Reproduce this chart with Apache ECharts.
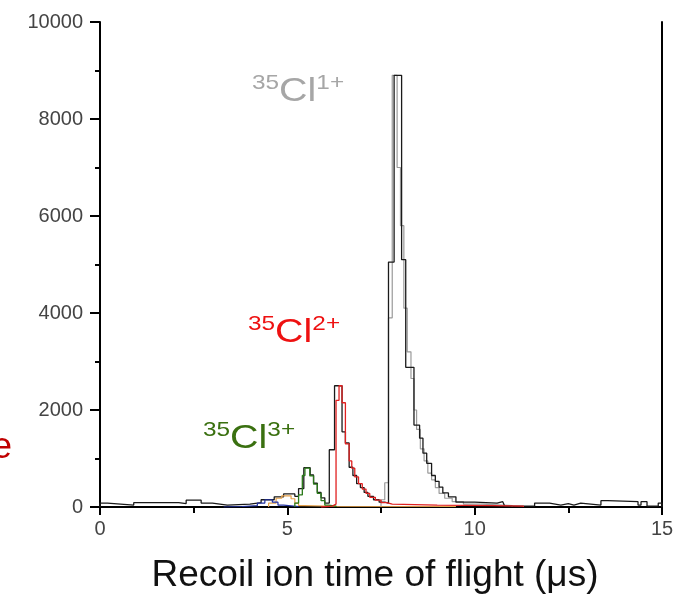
<!DOCTYPE html>
<html>
<head>
<meta charset="utf-8">
<script src="https://cdn.jsdelivr.net/npm/echarts@6/dist/echarts.min.js"></script>
<style>
html,body{margin:0;padding:0;background:#fff;}
#chart{width:677px;height:595px;}
</style>
</head>
<body>
<div id="chart"></div>
<script>
// Axis ticks
const xTicks = [0, 5, 10, 15];
const yTicks = [0, 2000, 4000, 6000, 8000, 10000];

// Total spectrum (black)
const blackEdges = [0,0.2,0.9,2.1,2.3,2.7,3.0,3.4,4.0,4.3,4.65,4.9,5.2,5.3,5.44,5.61,5.7,5.8,5.9,6.0,6.12,6.26,6.46,6.55,6.65,6.75,6.85,6.95,7.05,7.15,7.3,7.45,7.6,7.7,7.85,8.05,8.16,8.38,8.53,8.62,8.72,8.85,8.95,9.05,9.15,9.3,9.5,10.0,10.6,10.75,10.8,11.6,12.0,12.3,12.5,12.65,12.83,13.37,13.55,14.36,14.44,14.6,14.9,15];
const blackCounts = [80,40,90,70,140,80,40,60,90,150,210,270,220,380,810,660,490,300,190,80,1180,2500,1550,1320,820,650,480,400,300,220,150,100,80,5050,8900,5100,2880,1690,1420,1110,900,650,530,410,290,210,100,80,110,80,20,80,40,70,40,80,40,130,110,40,110,20,80];

// 35Cl1+ (grey)
const greyEdges = [7.5,7.6,7.7,7.8,7.93,8.02,8.11,8.2,8.3,8.38,8.45,8.55,8.65,8.75,8.85,8.95,9.05,9.2,9.4,9.7,10.2,11.0];
const greyCounts = [150,500,3900,8900,7000,5800,4100,3200,2650,2000,1600,1200,950,700,560,400,280,180,110,60,30];

// 35Cl2+ (red)
const redEdges = [5.9,6.2,6.3,6.38,6.46,6.55,6.65,6.72,6.8,6.9,7.0,7.1,7.2,7.35,7.5,7.65,7.8,9.0,10.5,11.3];
const redCounts = [20,60,2200,2500,2150,1300,950,800,620,480,370,280,200,140,90,60,40,30,20];

// 35Cl3+ (green)
const greenEdges = [5.2,5.3,5.4,5.47,5.6,5.7,5.8,5.9,6.0,6.1,6.3];
const greenCounts = [80,250,650,800,640,470,280,130,40,20];

// orange component
const orangeEdges = [4.5,4.7,4.85,5.1,5.2,5.3,5.45,6.3,9.5];
const orangeCounts = [80,180,230,170,80,30,15,10];

// blue component
const blueEdges = [3.3,3.8,4.2,4.4,4.6,4.75,4.9,5.3];
const blueCounts = [10,30,80,150,100,40,10];

function histData(edges, counts) {
  const d = [[edges[0], 0]];
  for (let i = 0; i < counts.length; i++) d.push([edges[i], counts[i]]);
  d.push([edges[edges.length - 1], counts[counts.length - 1]]);
  d.push([edges[edges.length - 1], 0]);
  return d;
}

function histSeries(name, edges, counts, color, width, z) {
  return {
    name: name, type: 'line', step: 'end', symbol: 'none', silent: true,
    data: histData(edges, counts), z: z,
    lineStyle: { color: color, width: width }
  };
}

const FONT = '"Liberation Sans", Arial, sans-serif';

function ionLabel(x, y, charge, color) {
  return {
    type: 'text', x: x, y: y, scaleX: 1.16, z: 20,
    style: {
      text: '{s|35}{m|Cl}{s|' + charge + '}', fill: color, font: '34px ' + FONT,
      align: 'left', verticalAlign: 'top',
      rich: {
        s: { fontSize: 21, fontFamily: FONT, fill: color, verticalAlign: 'top', lineHeight: 36 },
        m: { fontSize: 34, fontFamily: FONT, fill: color, verticalAlign: 'bottom', lineHeight: 36 }
      }
    }
  };
}

const chart = echarts.init(document.getElementById('chart'), null, { renderer: 'canvas' });

chart.setOption({
  animation: false,
  backgroundColor: '#ffffff',
  grid: { left: 100, right: 15, top: 22, bottom: 88, containLabel: false, outerBoundsMode: 'none' },
  xAxis: {
    type: 'value', min: xTicks[0], max: xTicks[xTicks.length - 1], interval: 5,
    name: 'Recoil ion time of flight (\u03bcs)', nameLocation: 'middle', nameGap: 50,
    nameTextStyle: { fontSize: 37, color: '#111', fontFamily: FONT, verticalAlign: 'top', padding: [0, 12, 0, 0] },
    axisLine: { show: true, onZero: false, lineStyle: { color: '#000', width: 2 } },
    axisTick: { show: true, inside: false, length: 8, lineStyle: { color: '#000', width: 2 } },
    minorTick: { show: true, splitNumber: 2, length: 6, lineStyle: { color: '#000', width: 2 } },
    axisLabel: { fontSize: 20, color: '#444', fontFamily: FONT, margin: 12, formatter: function (v) { return String(v); } },
    splitLine: { show: false }
  },
  yAxis: [{
    type: 'value', min: yTicks[0], max: yTicks[yTicks.length - 1], interval: 2000,
    axisLine: { show: true, lineStyle: { color: '#000', width: 2 } },
    axisTick: { show: true, inside: false, length: 10, lineStyle: { color: '#000', width: 2 } },
    minorTick: { show: true, splitNumber: 2, length: 5, lineStyle: { color: '#000', width: 2 } },
    axisLabel: { fontSize: 20, color: '#444', fontFamily: FONT, margin: 17, formatter: function (v) { return String(v); } },
    splitLine: { show: false }
  }, {
    type: 'value', position: 'right', min: yTicks[0], max: yTicks[yTicks.length - 1], interval: 2000,
    axisLine: { show: true, lineStyle: { color: '#000', width: 2 } },
    axisTick: { show: false }, axisLabel: { show: false }, splitLine: { show: false }
  }],
  series: [
    histSeries('grey', greyEdges, greyCounts, '#9a9a9a', 1.2, 2),
    histSeries('total', blackEdges, blackCounts, '#1a1a1a', 1.3, 3),
    histSeries('orange', orangeEdges, orangeCounts, '#e3a04a', 1.2, 4),
    histSeries('blue', blueEdges, blueCounts, '#2030a0', 1.2, 5),
    histSeries('Cl3+', greenEdges, greenCounts, '#2b7a1a', 1.3, 6),
    histSeries('Cl2+', redEdges, redCounts, '#e02020', 1.3, 7)
  ],
  graphic: [
    ionLabel(252, 73, '1+', '#a6a6a6'),
    ionLabel(248, 314, '2+', '#ee1111'),
    ionLabel(203, 420, '3+', '#3a7010'),
    { type: 'text', x: 12, y: 448, z: 20, style: {
      text: 'e', fill: '#c00000', font: '36px ' + FONT, align: 'right', verticalAlign: 'middle' } }
  ]
});
</script>
</body>
</html>
